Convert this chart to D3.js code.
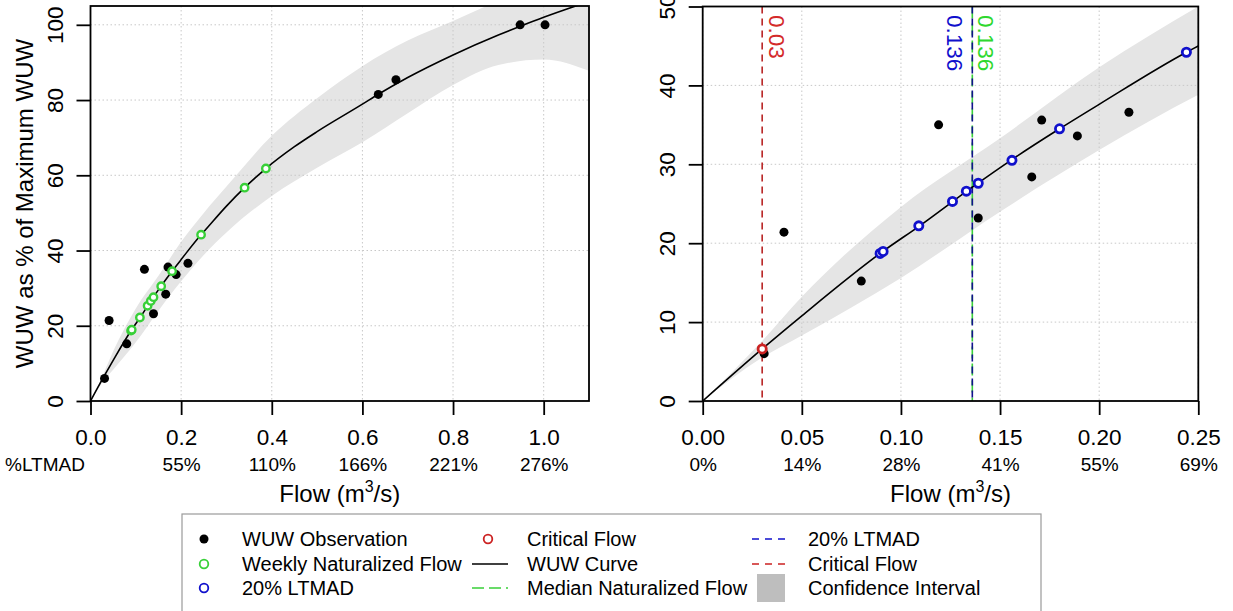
<!DOCTYPE html>
<html>
<head>
<meta charset="utf-8">
<script src="https://cdn.jsdelivr.net/npm/d3@7/dist/d3.min.js"></script>
<style>
  html, body { margin: 0; padding: 0; background: #fff; }
  svg { display: block; font-family: "Liberation Sans", Arial, sans-serif; }
</style>
</head>
<body>
<svg id="chart" width="1233" height="611"></svg>
<script>
// WUW observations: flow (m3/s) and WUW as % of maximum
const obsFlow = [0.031, 0.041, 0.080, 0.119, 0.139, 0.166, 0.171, 0.189, 0.215, 0.635, 0.674, 0.948, 1.003];
const obsWUW  = [6.0, 21.4, 15.2, 35.0, 23.2, 28.4, 35.6, 33.6, 36.6, 81.5, 85.4, 100.0, 100.0];

// Weekly naturalized flows placed on the WUW curve
const weeklyFlow = [0.0895, 0.091, 0.109, 0.126, 0.133, 0.139, 0.156, 0.180, 0.244, 0.340, 0.387];
const weeklyWUW  = [18.7, 18.95, 22.2, 25.3, 26.6, 27.6, 30.5, 34.5, 44.2, 56.7, 61.8];

// Fitted WUW curve
const curveFlow = [0, 0.03, 0.05, 0.09, 0.11, 0.136, 0.156, 0.18, 0.2, 0.244, 0.25, 0.3, 0.34, 0.387, 0.45, 0.5, 0.6, 0.636, 0.7, 0.8, 0.9, 0.95, 1.0, 1.1];
const curveWUW  = [0, 6.6, 10.8, 18.8, 22.3, 27.1, 30.6, 34.5, 37.6, 44.2, 45.0, 51.8, 56.7, 61.8, 67.6, 71.6, 78.9, 81.6, 86.0, 92.0, 97.3, 99.7, 102.0, 106.2];

// Confidence interval of the curve
const bandFlow  = [0, 0.03, 0.05, 0.1, 0.15, 0.2, 0.25, 0.3, 0.4, 0.5, 0.6, 0.7, 0.8, 0.9, 1.0, 1.1];
const bandLower = [0, 5.5, 8.3, 15.6, 24.0, 31.8, 38.8, 44.8, 54.5, 62.0, 68.8, 76.5, 84.0, 89.3, 90.8, 87.8];
const bandUpper = [0, 7.6, 13.2, 24.6, 33.3, 42.3, 50.0, 57.0, 70.5, 80.5, 89.0, 95.8, 101.0, 106.5, 112.5, 119.0];

// Reference flows
const criticalFlow = 0.03, criticalWUW = 6.6;
const ltmad20Flow = 0.136;
const medianFlow = 0.136;
const criticalLabel = "0.03", ltmad20Label = "0.136", medianLabel = "0.136";

// Axis ticks and %LTMAD labels
const leftXTicks = [0, 0.2, 0.4, 0.6, 0.8, 1.0];
const leftPctTicks = [0.2, 0.4, 0.6, 0.8, 1.0];
const leftPctLabels = ["55%", "110%", "166%", "221%", "276%"];
const leftYTicks = [0, 20, 40, 60, 80, 100];
const rightXTicks = [0, 0.05, 0.10, 0.15, 0.20, 0.25];
const rightPctLabels = ["0%", "14%", "28%", "41%", "55%", "69%"];
const rightYTicks = [0, 10, 20, 30, 40, 50];

const C = {
  band: "#e5e5e5", grid: "#c8c8c8", green: "#38d038", blue: "#1010cc",
  blueLine: "#12128c", red: "#cc2222", redLine: "#b82424", legendGray: "#bebebe"
};

const svg = d3.select("#chart");
const obs = obsFlow.map((f, i) => ({ f, v: obsWUW[i] }));
const weekly = weeklyFlow.map((f, i) => ({ f, v: weeklyWUW[i] }));
const curve = curveFlow.map((f, i) => ({ f, v: curveWUW[i] }));
const band = bandFlow.map((f, i) => ({ f, lo: bandLower[i], hi: bandUpper[i] }));

function panel(id, x, y, opts) {
  const [x0, x1] = x.range();
  const [yb, yt] = y.range();
  const g = svg.append("g");
  svg.append("clipPath").attr("id", id).append("rect")
    .attr("x", x0).attr("y", yt).attr("width", x1 - x0).attr("height", yb - yt);
  const inner = g.append("g").attr("clip-path", `url(#${id})`);

  inner.append("path").datum(band)
    .attr("fill", C.band)
    .attr("d", d3.area().x(d => x(d.f)).y0(d => y(d.lo)).y1(d => y(d.hi)).curve(d3.curveMonotoneX));

  // dotted grid at the tick positions
  inner.selectAll(".gx").data(opts.xTicks).join("line")
    .attr("x1", d => x(d)).attr("x2", d => x(d)).attr("y1", yt).attr("y2", yb)
    .attr("stroke", C.grid).attr("stroke-width", 1).attr("stroke-dasharray", "1.5,2.5");
  inner.selectAll(".gy").data(opts.yTicks).join("line")
    .attr("x1", x0).attr("x2", x1).attr("y1", d => y(d)).attr("y2", d => y(d))
    .attr("stroke", C.grid).attr("stroke-width", 1).attr("stroke-dasharray", "1.5,2.5");

  if (opts.refLines) opts.refLines(inner);

  inner.append("path").datum(curve)
    .attr("fill", "none").attr("stroke", "#000").attr("stroke-width", 1.6)
    .attr("d", d3.line().x(d => x(d.f)).y(d => y(d.v)).curve(d3.curveMonotoneX));

  inner.selectAll(".obs").data(obs).join("circle")
    .attr("cx", d => x(d.f)).attr("cy", d => y(d.v)).attr("r", 4.5).attr("fill", "#000");

  inner.selectAll(".wk").data(weekly).join("circle")
    .attr("cx", d => x(d.f)).attr("cy", d => y(d.v)).attr("r", opts.wkR)
    .attr("fill", "#fff").attr("stroke", opts.wkColor).attr("stroke-width", opts.wkW);

  if (opts.extra) opts.extra(inner);

  g.append("rect").attr("x", x0).attr("y", yt).attr("width", x1 - x0).attr("height", yb - yt)
    .attr("fill", "none").attr("stroke", "#000").attr("stroke-width", 1.8);

  // x axis with flow labels
  const ax = g.append("g").attr("transform", `translate(0,${yb})`)
    .call(d3.axisBottom(x).tickValues(opts.xTicks).tickSize(14).tickFormat(opts.xFmt));
  ax.select(".domain").remove();
  ax.selectAll(".tick line").attr("stroke", "#000").attr("stroke-width", 1.8);
  ax.selectAll("text").attr("y", 44).attr("dy", null)
    .attr("font-size", 22.5).attr("font-family", "Liberation Sans, Arial, sans-serif").attr("fill", "#000");

  // %LTMAD row
  const px = g.append("g").attr("transform", `translate(0,${yb})`)
    .call(d3.axisBottom(x).tickValues(opts.pctTicks).tickSize(0)
      .tickFormat((d, i) => opts.pctLabels[i]));
  px.select(".domain").remove();
  px.selectAll("text").attr("y", 70).attr("dy", null)
    .attr("font-size", 19).attr("font-family", "Liberation Sans, Arial, sans-serif").attr("fill", "#000");

  // y axis, labels parallel to the axis
  const ay = g.append("g").attr("transform", `translate(${x0},0)`)
    .call(d3.axisLeft(y).tickValues(opts.yTicks).tickSize(14).tickFormat(d3.format("d")));
  ay.select(".domain").remove();
  ay.selectAll(".tick line").attr("stroke", "#000").attr("stroke-width", 1.8);
  ay.selectAll("text").attr("x", null).attr("dy", null).attr("y", -28)
    .attr("transform", "rotate(-90)").attr("text-anchor", "middle")
    .attr("font-size", 22.5).attr("font-family", "Liberation Sans, Arial, sans-serif").attr("fill", "#000");

  // x title
  const t = g.append("text").attr("x", (x0 + x1) / 2).attr("y", 502)
    .attr("text-anchor", "middle").attr("font-size", 24).attr("fill", "#000");
  t.append("tspan").text("Flow (m");
  t.append("tspan").attr("font-size", 16).attr("dy", -10).text("3");
  t.append("tspan").attr("dy", 10).text("/s)");
  return g;
}

// Left panel: full flow range
const xL = d3.scaleLinear().domain([0, 1.1]).range([90.5, 589]);
const yL = d3.scaleLinear().domain([0, 105]).range([401, 6]);
const gL = panel("clipL", xL, yL, {
  xTicks: leftXTicks, yTicks: leftYTicks, xFmt: d3.format(".1f"),
  pctTicks: leftPctTicks, pctLabels: leftPctLabels,
  wkColor: C.green, wkR: 3.7, wkW: 2.4
});
gL.append("text").attr("x", 5).attr("y", 471).attr("font-size", 19).attr("fill", "#000").text("%LTMAD");
gL.append("text").attr("transform", `translate(33,${(yL(0) + yL(105)) / 2}) rotate(-90)`)
  .attr("text-anchor", "middle").attr("font-size", 24).attr("fill", "#000")
  .text("WUW as % of Maximum WUW");

// Right panel: low-flow detail with reference flows
const xR = d3.scaleLinear().domain([0, 0.25]).range([702.7, 1198.3]);
const yR = d3.scaleLinear().domain([0, 50]).range([401, 6.5]);
const gR = panel("clipR", xR, yR, {
  xTicks: rightXTicks, yTicks: rightYTicks, xFmt: d3.format(".2f"),
  pctTicks: rightXTicks, pctLabels: rightPctLabels,
  wkColor: C.blue, wkR: 4.1, wkW: 2.8,
  refLines: g => {
    const [yb, yt] = yR.range();
    const vline = (f, col, dash) => g.append("line")
      .attr("x1", xR(f)).attr("x2", xR(f)).attr("y1", yt).attr("y2", yb)
      .attr("stroke", col).attr("stroke-width", 1.6).attr("stroke-dasharray", dash);
    vline(medianFlow, C.green, "12,5");
    vline(ltmad20Flow, C.blueLine, "7,5");
    vline(criticalFlow, C.redLine, "7,5");
  },
  extra: g => {
    g.append("circle").attr("cx", xR(criticalFlow)).attr("cy", yR(criticalWUW)).attr("r", 4.1)
      .attr("fill", "#fff").attr("stroke", C.red).attr("stroke-width", 2.8);
  }
});
const refLabel = (xpos, col, txt) => gR.append("text")
  .attr("transform", `translate(${xpos},15) rotate(90)`)
  .attr("font-size", 22.5).attr("fill", col).text(txt);
refLabel(xR(criticalFlow) + 7, "#d42a2a", criticalLabel);
refLabel(xR(ltmad20Flow) - 25, C.blue, ltmad20Label);
refLabel(xR(medianFlow) + 6, "#2ed82e", medianLabel);

// Legend
const leg = svg.append("g");
leg.append("rect").attr("x", 182).attr("y", 514).attr("width", 859).attr("height", 104)
  .attr("fill", "#fff").attr("stroke", "#9a9a9a").attr("stroke-width", 1.2);
const rows = [539, 564, 588];
const legendItems = [
  { col: 0, row: 0, kind: "dot", color: "#000", label: "WUW Observation" },
  { col: 0, row: 1, kind: "ring", color: C.green, label: "Weekly Naturalized Flow" },
  { col: 0, row: 2, kind: "ring", color: C.blue, label: "20% LTMAD" },
  { col: 1, row: 0, kind: "ring", color: C.red, label: "Critical Flow" },
  { col: 1, row: 1, kind: "line", color: "#000", dash: null, label: "WUW Curve" },
  { col: 1, row: 2, kind: "line", color: C.green, dash: "12,5", label: "Median Naturalized Flow" },
  { col: 2, row: 0, kind: "line", color: C.blue, dash: "7,6", label: "20% LTMAD" },
  { col: 2, row: 1, kind: "line", color: C.red, dash: "7,6", label: "Critical Flow" },
  { col: 2, row: 2, kind: "box", color: C.legendGray, label: "Confidence Interval" }
];
const cols = [
  { sym: 204, seg: [186, 222], text: 242 },
  { sym: 488, seg: [472, 508], text: 527 },
  { sym: 771, seg: [752, 790], text: 808 }
];
legendItems.forEach(it => {
  const c = cols[it.col], yy = rows[it.row];
  if (it.kind === "dot") {
    leg.append("circle").attr("cx", c.sym).attr("cy", yy).attr("r", 4.5).attr("fill", it.color);
  } else if (it.kind === "ring") {
    leg.append("circle").attr("cx", c.sym).attr("cy", yy).attr("r", 4.3)
      .attr("fill", "none").attr("stroke", it.color).attr("stroke-width", 1.8);
  } else if (it.kind === "line") {
    leg.append("line").attr("x1", c.seg[0]).attr("x2", c.seg[1]).attr("y1", yy).attr("y2", yy)
      .attr("stroke", it.color).attr("stroke-width", 1.6).attr("stroke-dasharray", it.dash);
  } else {
    leg.append("rect").attr("x", c.sym - 14).attr("y", yy - 14).attr("width", 28).attr("height", 28)
      .attr("fill", it.color);
  }
  leg.append("text").attr("x", c.text).attr("y", yy + 7).attr("font-size", 20).attr("fill", "#000")
    .text(it.label);
});
</script>
</body>
</html>
